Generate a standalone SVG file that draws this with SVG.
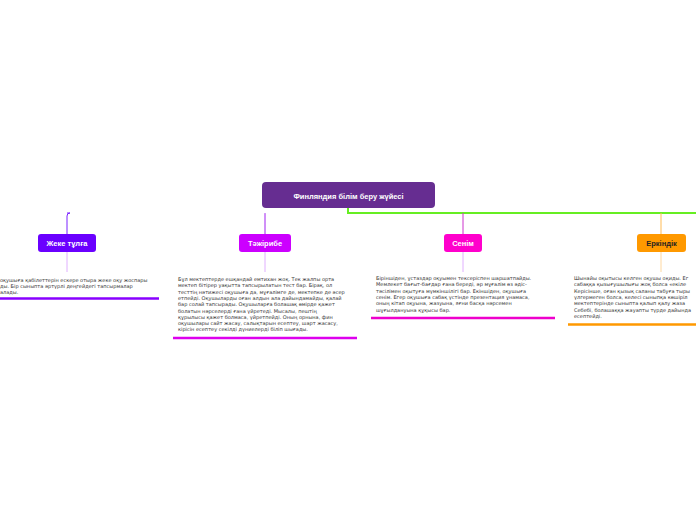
<svg xmlns="http://www.w3.org/2000/svg" width="696" height="520" viewBox="0 0 696 520">
<defs>
<linearGradient id="gl" x1="0" x2="1" y1="0" y2="0"><stop offset="0" stop-color="#3d5cff"/><stop offset="0.5" stop-color="#7a22ff"/><stop offset="1" stop-color="#a020f0"/></linearGradient>
<style>
.n{font-family:"Liberation Sans",Arial,sans-serif;font-size:7.5px;font-weight:bold;text-anchor:middle}
.t{font-family:"DejaVu Sans",sans-serif;font-size:5px;fill:#333}
</style>
</defs>
<rect width="696" height="520" fill="#fff"/>
<g id="connectors" fill="none" stroke-width="2">
<path d="M0 213H348" stroke="url(#gl)"/>
<path d="M348 208V213H696" stroke="#66ee22"/>
<path d="M67 213H70q-3 0-3 3V234" stroke="#7a22ff" stroke-width="1"/>
<path d="M265 213q0 0 0 3V234" stroke="#a020f0" stroke-width="1"/>
<path d="M463 213V234" stroke="#cc33cc" stroke-width="1"/>
<path d="M661 213V234" stroke="#ffbb55" stroke-width="1"/>
<path d="M67 252V272M265 252V272M463 252V272" stroke="#e0b0ff" stroke-width="1"/>
<path d="M661 252V272" stroke="#ffd8a0" stroke-width="1"/>
</g>
<g id="root"><rect x="262" y="182" width="173" height="26" rx="4" fill="#662d91"/><text class="n" x="348.5" y="198.5" fill="#fff" font-size="9">Финляндия білім беру жүйесі</text></g>
<g id="n1"><rect x="38" y="234" width="58" height="18" rx="3" fill="#6a00ff"/><text class="n" x="67" y="245.5" fill="#fff">Жеке тұлға</text>
<text class="t" x="0" y="282">оқушыға қабілеттерін ескере отыра жеке оқу жоспары</text>
<text class="t" x="0" y="288">ды. Бір сыныпта әртүрлі деңгейдегі тапсырмалар</text>
<text class="t" x="0" y="294">алады.</text>
<path d="M0 298.5H159" stroke="#8800ff" stroke-width="2.5"/></g>
<g id="n2"><rect x="239" y="234" width="52" height="18" rx="3" fill="#cc00ff"/><text class="n" x="265" y="245.5" fill="#fff">Тәжірибе</text>
<text class="t" x="178" y="281">Бұл мектептерде ешқандай емтихан жоқ. Тек жалпы орта</text>
<text class="t" x="178" y="287.3">мектеп бітірер уақытта тапсырылатын тест бар. Бірақ, ол</text>
<text class="t" x="178" y="293.6">тесттің нәтижесі оқушыға да, мұғалімге де, мектепке де әсер</text>
<text class="t" x="178" y="299.9">етпейді. Оқушыларды оған алдын ала дайындамайды, қалай</text>
<text class="t" x="178" y="306.2">бар солай тапсырады. Оқушыларға болашақ өмірде қажет</text>
<text class="t" x="178" y="312.5">болатын нәрселерді ғана үйретеді. Мысалы, пештің</text>
<text class="t" x="178" y="318.8">құрылысы қажет болмаса, үйретпейді. Оның орнына, фин</text>
<text class="t" x="178" y="325.1">оқушылары сайт жасау, салықтарын есептеу, шарт жасасу,</text>
<text class="t" x="178" y="331.4">кірісін есептеу секілді дүниелерді біліп шығады.</text>
<path d="M173 338H357" stroke="#dd00ee" stroke-width="2.5"/></g>
<g id="n3"><rect x="444" y="234" width="38" height="18" rx="3" fill="#ff00cc"/><text class="n" x="463" y="245.5" fill="#fff">Сенім</text>
<text class="t" x="376" y="280">Біріншіден, ұстаздар оқуымен тексеріспен шаршатпайды.</text>
<text class="t" x="376" y="286.3">Мемлекет бағыт-бағдар ғана береді, әр мұғалім өз әдіс-</text>
<text class="t" x="376" y="292.6">тәсілімен оқытуға мүмкіншілігі бар. Екіншіден, оқушыға</text>
<text class="t" x="376" y="298.9">сенім. Егер оқушыға сабақ үстінде презентация ұнамаса,</text>
<text class="t" x="376" y="305.2">оның кітап оқуына, жазуына, яғни басқа нәрсемен</text>
<text class="t" x="376" y="311.5">шұғылдануына құқысы бар.</text>
<path d="M371 318H555" stroke="#ee00cc" stroke-width="2.5"/></g>
<g id="n4"><rect x="637" y="234" width="49" height="18" rx="3" fill="#ff9900"/><text class="n" x="661.5" y="245.5" fill="#222">Еркіндік</text>
<text class="t" x="574" y="280">Шынайы оқытысы келген оқушы оқиды. Ег</text>
<text class="t" x="574" y="286.3">сабаққа қызығушылығы жоқ болса «екіле</text>
<text class="t" x="574" y="292.6">Керісінше, оған қызық саланы табуға тыры</text>
<text class="t" x="574" y="298.9">үлгермеген болса, келесі сыныпқа көшіріл</text>
<text class="t" x="574" y="305.2">мектептерінде сыныпта қалып қалу жаза</text>
<text class="t" x="574" y="311.5">Себебі, болашаққа жауапты түрде дайында</text>
<text class="t" x="574" y="317.8">есептейді.</text>
<path d="M568 324.5H696" stroke="#ff9900" stroke-width="2.5"/></g>
</svg>
